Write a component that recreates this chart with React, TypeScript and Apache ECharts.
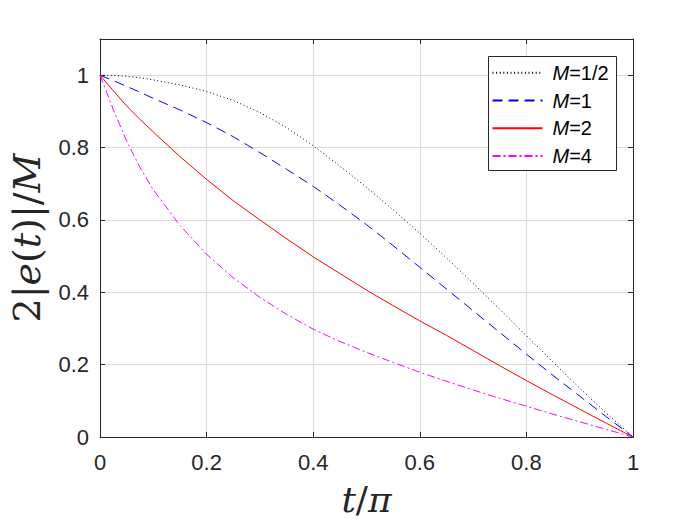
import React, { useEffect, useRef } from "react";
import * as echarts from "echarts";

const tValues = [0, 0.025, 0.05, 0.075, 0.1, 0.15, 0.2, 0.25, 0.3, 0.35, 0.4, 0.45, 0.5, 0.55, 0.6, 0.65, 0.7, 0.75, 0.8, 0.85, 0.9, 0.95, 1];
const mHalf = [1, 0.9995, 0.997, 0.993, 0.987, 0.973, 0.955, 0.93, 0.897, 0.855, 0.805, 0.749, 0.69, 0.628, 0.563, 0.495, 0.425, 0.353, 0.28, 0.207, 0.135, 0.066, 0];
const mOne = [1, 0.985, 0.969, 0.953, 0.936, 0.904, 0.869, 0.83, 0.786, 0.74, 0.693, 0.641, 0.587, 0.529, 0.469, 0.409, 0.349, 0.289, 0.229, 0.17, 0.113, 0.056, 0];
const mTwo = [1, 0.957, 0.915, 0.878, 0.843, 0.775, 0.712, 0.653, 0.6, 0.548, 0.498, 0.452, 0.406, 0.363, 0.321, 0.281, 0.239, 0.197, 0.156, 0.116, 0.077, 0.038, 0];
const mFour = [1, 0.905, 0.818, 0.745, 0.683, 0.585, 0.505, 0.44, 0.386, 0.339, 0.298, 0.264, 0.234, 0.206, 0.179, 0.154, 0.13, 0.107, 0.085, 0.063, 0.042, 0.021, 0];

const seriesNames = ["M=1/2", "M=1", "M=2", "M=4"];
const seriesColors = ["#000000", "#0000ff", "#ff0000", "#ff00ff"];
const seriesDashes: any[] = [[1, 2.6], [10, 6], "solid", [8, 3, 2, 3]];
const seriesValues = [mHalf, mOne, mTwo, mFour];

const xTicks = { min: 0, max: 1, interval: 0.2 };
const yTicks = { min: 0, max: 1.1, interval: 0.2 };

const AXIS = "#262626";
const SANS = "'Liberation Sans', Arial, sans-serif";
const SERIF = "'DejaVu Serif', serif";

export default function App() {
  const ref = useRef<HTMLDivElement>(null);
  useEffect(() => {
    document.body.style.margin = "0";
    const chart = echarts.init(ref.current!, null, { renderer: "svg" });
    const fmt = (v: number) => (v > 1.05 ? "" : String(+v.toFixed(1)));
    const baseAxis = {
      type: "value" as const,
      axisLine: { show: true, onZero: false, lineStyle: { color: AXIS, width: 1 } },
      axisTick: { show: true, inside: true, length: 5, lineStyle: { color: AXIS } },
    };
    chart.setOption({
      animation: false,
      backgroundColor: "#ffffff",
      grid: { left: 94, right: 67, top: 39, bottom: 88, containLabel: false },
      xAxis: [
        {
          ...baseAxis,
          position: "bottom",
          ...xTicks,
          axisLabel: { fontSize: 22, fontFamily: SANS, color: AXIS, margin: 14, formatter: fmt },
          splitLine: { show: true, lineStyle: { color: "#dcdcdc", width: 1 } },
          name: "{i|t}{n|/}{i|π}",
          nameLocation: "middle",
          nameGap: 44,
          nameTextStyle: {
            fontSize: 36,
            fontFamily: SERIF,
            color: AXIS,
            rich: {
              i: { fontSize: 36, fontFamily: SERIF, fontStyle: "italic", color: AXIS },
              n: { fontSize: 36, fontFamily: SERIF, fontStyle: "normal", color: AXIS },
            },
          },
        },
        {
          ...baseAxis,
          position: "top",
          ...xTicks,
          axisLabel: { show: false },
          splitLine: { show: false },
        },
      ],
      yAxis: [
        {
          ...baseAxis,
          position: "left",
          ...yTicks,
          axisLabel: { fontSize: 22, fontFamily: SANS, color: AXIS, margin: 11, formatter: fmt },
          splitLine: { show: true, lineStyle: { color: "#dcdcdc", width: 1 } },
          name: "{n|2|}{i|e}{n|(}{i|t}{n|)|/}{i|M}",
          nameLocation: "middle",
          nameRotate: 90,
          nameGap: 54,
          nameTextStyle: {
            fontSize: 38,
            fontFamily: SERIF,
            color: AXIS,
            rich: {
              i: { fontSize: 38, fontFamily: SERIF, fontStyle: "italic", color: AXIS },
              n: { fontSize: 38, fontFamily: SERIF, fontStyle: "normal", color: AXIS },
            },
          },
        },
        {
          ...baseAxis,
          position: "right",
          ...yTicks,
          axisLabel: { show: false },
          splitLine: { show: false },
        },
      ],
      legend: {
        orient: "vertical",
        left: 491.5,
        top: 62.7,
        padding: 0,
        itemWidth: 50,
        itemHeight: 14,
        itemGap: 7.8,
        data: seriesNames,
        itemStyle: { opacity: 0 },
        formatter: (name: string) => "{i|M}{n|" + name.slice(1) + "}",
        textStyle: {
          fontSize: 20,
          fontFamily: SANS,
          color: "#000000",
          lineHeight: 20,
          rich: {
            i: { fontSize: 20, fontFamily: SANS, fontStyle: "italic", color: "#000", padding: [0, 0, 0, 5], lineHeight: 20 },
            n: { fontSize: 20, fontFamily: SANS, color: "#000", lineHeight: 20 },
          },
        },
        z: 5,
      },
      graphic: [
        {
          type: "rect",
          z: 4,
          shape: { x: 488.5, y: 56.5, width: 128, height: 114 },
          style: { fill: "#ffffff", stroke: AXIS, lineWidth: 1 },
        },
      ],
      series: seriesNames.map((name, k) => ({
        name,
        type: "line",
        xAxisIndex: 0,
        yAxisIndex: 0,
        data: tValues.map((t, i) => [t, seriesValues[k][i]]),
        showSymbol: false,
        symbol: "none",
        smooth: false,
        color: seriesColors[k],
        lineStyle: { color: seriesColors[k], width: 1, type: seriesDashes[k] },
        z: 2,
      })),
    });
    return () => chart.dispose();
  }, []);
  return <div ref={ref} style={{ width: 700, height: 525 }} />;
}
